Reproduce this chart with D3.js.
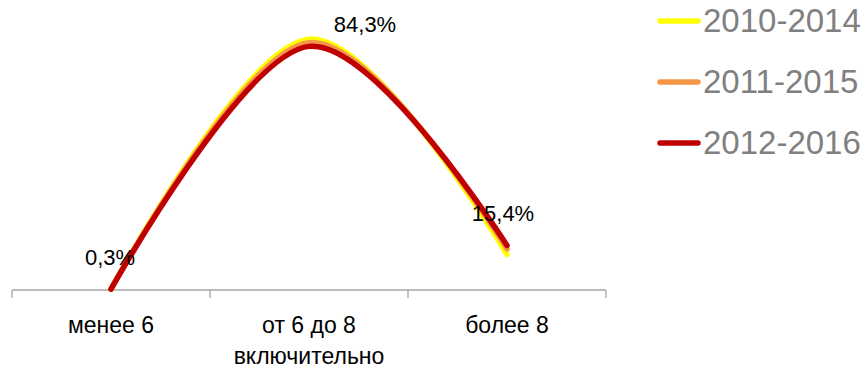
<!DOCTYPE html>
<html>
<head>
<meta charset="utf-8">
<script src="https://cdn.jsdelivr.net/npm/d3@7"></script>
<style>
  body { margin: 0; background: #fff; }
  svg { display: block; }
</style>
</head>
<body>
<svg></svg>
<script>
var categories = ["менее 6", "от 6 до 8 включительно", "более 8"];
var seriesNames = ["2010-2014", "2011-2015", "2012-2016"];
var values2010 = [0.2, 86.8, 12.3];
var values2011 = [0.3, 85.6, 14.2];
var values2012 = [0.3, 84.3, 15.4];
var labels2012 = ["0,3%", "84,3%", "15,4%"];
var colors = ["#ffff00", "#f79646", "#c00000"];

var svgWidth = 867, svgHeight = 369;
var svg = d3.select("svg").attr("width", svgWidth).attr("height", svgHeight);

var font = "Liberation Sans, Arial, sans-serif";

// x: bands, ticks on band edges
var xScale = d3.scaleBand().domain(categories).range([12, 606]);
var yScale = d3.scaleLinear().domain([0, 100]).range([290, 1]);

function cx(c) { return xScale(c) + xScale.bandwidth() / 2; }

function addText(x, y, size, str) {
  return svg.append("text")
    .attr("x", x).attr("y", y)
    .attr("text-anchor", "middle")
    .style("font-family", font)
    .style("font-size", size + "px").attr("fill", "#000")
    .text(str);
}

// axis
var axis = svg.append("g").attr("stroke", "#a6a6a6").attr("stroke-width", 1.3);
axis.append("line")
  .attr("x1", xScale.range()[0]).attr("x2", xScale.range()[1])
  .attr("y1", yScale(0)).attr("y2", yScale(0));
var tickX = categories.map(function(c) { return xScale(c); }).concat([xScale.range()[1]]);
axis.selectAll(".tk").data(tickX).enter().append("line")
  .attr("x1", function(d) { return d; }).attr("x2", function(d) { return d; })
  .attr("y1", yScale(0)).attr("y2", yScale(0) + 8);

// category labels
var catLines = [["менее 6"], ["от 6 до 8", "включительно"], ["более 8"]];
categories.forEach(function(c, i) {
  catLines[i].forEach(function(s, j) {
    addText(cx(c), 333 + j * 31, 23, s);
  });
});

// lines
var allSeries = [values2010, values2011, values2012];
var line = d3.line()
  .x(function(d, i) { return cx(categories[i]); })
  .y(function(d) { return yScale(d); })
  .curve(d3.curveCardinal.tension(0));

svg.selectAll(".series").data(allSeries).enter().append("path")
  .attr("d", line)
  .attr("fill", "none")
  .attr("stroke", function(d, i) { return colors[i]; })
  .attr("stroke-width", 5.5)
  .attr("stroke-linecap", "round");

// data labels for 2012-2016
var labelOffsets = [[-1, -24], [56, -14], [-4, -24]];
values2012.forEach(function(d, i) {
  addText(cx(categories[i]) + labelOffsets[i][0], yScale(d) + labelOffsets[i][1], 22, labels2012[i]);
});

// legend
var legend = svg.append("g").attr("transform", "translate(660,21)");
seriesNames.forEach(function(n, i) {
  var g = legend.append("g").attr("transform", "translate(0," + (i * 61) + ")");
  g.append("line").attr("x1", 0).attr("x2", 38).attr("y1", 0).attr("y2", 0)
    .attr("stroke", colors[i]).attr("stroke-width", 5.5).attr("stroke-linecap", "round");
  g.append("text").attr("x", 43).attr("y", 11)
    .style("font-family", font)
    .style("font-size", "33px").attr("fill", "#808080")
    .text(n);
});
</script>
</body>
</html>
